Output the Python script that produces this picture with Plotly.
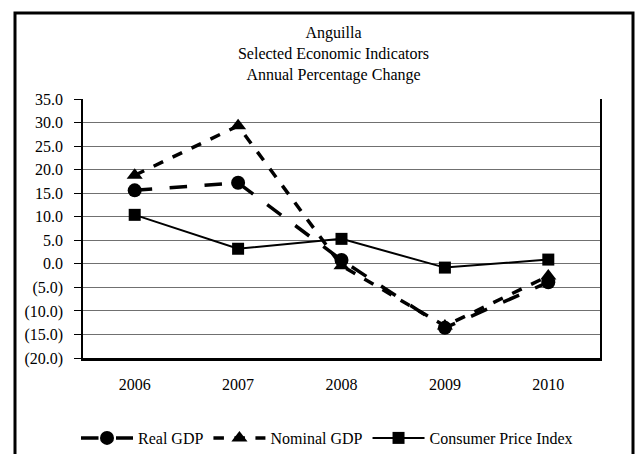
import plotly.graph_objects as go

years = ["2006", "2007", "2008", "2009", "2010"]
real_gdp = [15.6, 17.2, 0.8, -13.6, -3.9]
nominal_gdp = [18.8, 29.3, -0.4, -13.2, -2.6]
cpi = [10.4, 3.2, 5.3, -0.8, 0.9]

y_ticks = [35, 30, 25, 20, 15, 10, 5, 0, -5, -10, -15, -20]
y_tick_labels = ["35.0", "30.0", "25.0", "20.0", "15.0", "10.0", "5.0", "0.0",
                 "(5.0)", "(10.0)", "(15.0)", "(20.0)"]

FONT = "Liberation Serif"
W, H = 637, 454
L, R, T, B = 83, 37, 99, 96
pw, ph = W - L - R, H - T - B

fig = go.Figure()
fig.add_trace(go.Scatter(x=years, y=real_gdp, name="Real GDP", mode="lines+markers",
                         line=dict(color="black", width=3.5, dash="longdash"),
                         marker=dict(symbol="circle", size=14, color="black")))
fig.add_trace(go.Scatter(x=years, y=nominal_gdp, name="Nominal GDP", mode="lines+markers",
                         line=dict(color="black", width=3.5, dash="dash"),
                         marker=dict(symbol="triangle-up", size=14, color="black")))
fig.add_trace(go.Scatter(x=years, y=cpi, name="Consumer Price Index", mode="lines+markers",
                         line=dict(color="black", width=2),
                         marker=dict(symbol="square", size=12, color="black")))

def px_x(p):
    return (p - L) / pw

def px_y(p):
    return (H - B - p) / ph

fig.add_shape(type="rect", xref="paper", yref="paper",
              x0=px_x(15), x1=px_x(633), y0=px_y(470), y1=px_y(13),
              line=dict(color="black", width=3), layer="below")

fig.update_layout(
    width=W, height=H,
    margin=dict(l=L, r=R, t=T, b=B, autoexpand=False),
    paper_bgcolor="white", plot_bgcolor="white",
    font=dict(family=FONT, size=16, color="black"),
    title=dict(text="Anguilla<br>Selected Economic Indicators<br>Annual Percentage Change",
               x=(L + pw / 2 - 8) / W, xanchor="center", y=1 - 38 / H, yanchor="middle",
               font=dict(family=FONT, size=16, color="black")),
    showlegend=True,
    legend=dict(orientation="h", x=px_x(327), xanchor="center", y=px_y(438), yanchor="middle",
                font=dict(family=FONT, size=16, color="black"),
                bgcolor="rgba(0,0,0,0)", itemwidth=52, tracegroupgap=0),
    xaxis=dict(type="category", range=[-0.5, 4.5], automargin=False,
               showgrid=False, showline=True, linecolor="black", linewidth=3,
               mirror=False, ticks="", ticklabelstandoff=10,
               tickfont=dict(size=16)),
    yaxis=dict(range=[-20, 35], tickvals=y_ticks, ticktext=y_tick_labels, automargin=False,
               showgrid=True, gridcolor="#707070", gridwidth=1.2,
               showline=True, linecolor="black", linewidth=1.5, mirror=True,
               ticks="outside", ticklen=7, tickcolor="black", ticklabelstandoff=8,
               zeroline=False, tickfont=dict(size=16)),
)

fig.write_html("out.html")
